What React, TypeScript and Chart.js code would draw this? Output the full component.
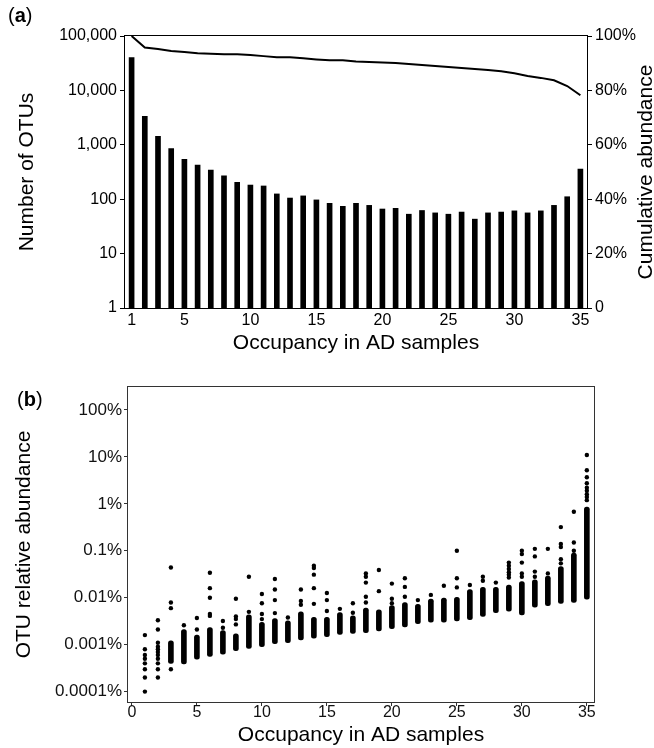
import React, { useEffect, useRef } from 'react';
import { Chart, registerables } from 'chart.js';

Chart.register(...registerables);

const FONT = '"Liberation Sans", Arial, Helvetica, sans-serif';

// ---------- Panel (a) ----------
const occupancyCategories = ['1','2','3','4','5','6','7','8','9','10','11','12','13','14','15','16','17','18','19','20','21','22','23','24','25','26','27','28','29','30','31','32','33','34','35'];
const shownOccupancyLabels = ['1','5','10','15','20','25','30','35'];
const otuCounts = [40000, 3340, 1430, 848, 541, 425, 344, 270, 204, 182, 175, 125, 105, 115, 97, 84, 74, 84, 77, 66, 68, 53, 62, 56, 53, 58, 43, 56, 58, 61, 56, 61, 77, 111, 359];
const cumulativeAbundance = [100, 95.8, 95.2, 94.5, 94.1, 93.7, 93.5, 93.3, 93.3, 93.0, 92.6, 92.2, 92.2, 91.8, 91.4, 91.1, 91.1, 90.6, 90.4, 90.3, 90.1, 89.7, 89.3, 89.0, 88.6, 88.2, 87.9, 87.5, 87.0, 86.3, 85.3, 84.6, 83.7, 81.6, 78.2];
const countTicks = [1, 10, 100, 1000, 10000, 100000];
const countTickLabels = ['1', '10', '100', '1,000', '10,000', '100,000'];
const abundanceTicks = [0, 20, 40, 60, 80, 100];
const abundanceTickLabels = ['0', '20%', '40%', '60%', '80%', '100%'];
const aXTitle = 'Occupancy in AD samples';
const aLeftTitle = 'Number of OTUs';
const aRightTitle = 'Cumulative abundance';

// ---------- Panel (b) ----------
const occupancyValues = [1,2,3,4,5,6,7,8,9,10,11,12,13,14,15,16,17,18,19,20,21,22,23,24,25,26,27,28,29,30,31,32,33,34,35];
const denseLow = [null, null, 0.0004, 0.00039, 0.00049, 0.00056, 0.00063, 0.00074, 0.00083, 0.00091, 0.00105, 0.0011, 0.00126, 0.00138, 0.00148, 0.00166, 0.00174, 0.0018, 0.00195, 0.0022, 0.0024, 0.0028, 0.003, 0.003, 0.0032, 0.0034, 0.004, 0.0048, 0.0052, 0.0043, 0.0063, 0.0068, 0.0076, 0.0079, 0.0093];
const denseHigh = [null, null, 0.0012, 0.0021, 0.0016, 0.0023, 0.002, 0.0017, 0.0043, 0.003, 0.0036, 0.0032, 0.005, 0.0038, 0.0038, 0.0048, 0.0041, 0.006, 0.0055, 0.0068, 0.0079, 0.0072, 0.0093, 0.0098, 0.0102, 0.015, 0.0166, 0.0166, 0.0186, 0.022, 0.024, 0.029, 0.046, 0.089, 0.85];
const outlierValues = [
  [0.0016, 0.0008, 0.0006, 0.0005, 0.0004, 0.0003, 0.0002, 0.0001],
  [0.0033, 0.0021, 0.0011, 0.0009, 0.0008, 0.0007, 0.0006, 0.0005, 0.0004, 0.0003, 0.0002],
  [0.044, 0.0079, 0.006, 0.0003],
  [0.0026],
  [0.0037, 0.0021],
  [0.034, 0.016, 0.01, 0.0045, 0.0041],
  [0.0032, 0.0023],
  [0.0095, 0.004, 0.0035, 0.0027],
  [0.028, 0.005],
  [0.012, 0.0076, 0.0045, 0.0035],
  [0.025, 0.015, 0.0089, 0.0047],
  [0.0038],
  [0.015, 0.0085, 0.0071],
  [0.048, 0.043, 0.031, 0.016, 0.0074],
  [0.0126, 0.0089, 0.0052],
  [0.0058],
  [0.0076, 0.0048],
  [0.033, 0.028, 0.021, 0.0105, 0.0079],
  [0.039, 0.0138],
  [0.02, 0.0095, 0.0076],
  [0.026, 0.017, 0.0105],
  [0.0089],
  [0.0115],
  [0.018],
  [0.1, 0.026, 0.0166],
  [0.0186],
  [0.028, 0.023],
  [0.021],
  [0.056, 0.048, 0.041, 0.035, 0.031, 0.027],
  [0.1, 0.085, 0.056, 0.033, 0.028],
  [0.11, 0.076, 0.036, 0.028],
  [0.11, 0.033],
  [0.32, 0.14, 0.12, 0.066, 0.054],
  [0.68, 0.15, 0.1],
  [11, 5.2, 3.7, 2.75, 2.2, 1.9, 1.6, 1.4, 1.2],
];
const relTicks = [0.0001, 0.001, 0.01, 0.1, 1, 10, 100];
const relTickLabels = ['0.0001%', '0.001%', '0.01%', '0.1%', '1%', '10%', '100%'];
const occTicks = [0, 5, 10, 15, 20, 25, 30, 35];
const bXTitle = 'Occupancy in AD samples';
const bYTitle = 'OTU relative abundance';

const framePlugin = (color: string) => ({
  id: 'frame',
  afterDraw(chart: any) {
    const { ctx, chartArea } = chart;
    const l = Math.round(chartArea.left) - 0.5;
    const t = Math.round(chartArea.top) - 0.5;
    const r = Math.round(chartArea.right) + 0.5;
    const b = Math.round(chartArea.bottom) + 0.5;
    ctx.save();
    ctx.strokeStyle = color;
    ctx.lineWidth = 1;
    ctx.strokeRect(l, t, r - l, b - t);
    ctx.restore();
  },
});

const rightTitlePlugin = {
  id: 'rightTitle',
  afterDraw(chart: any) {
    const { ctx, chartArea } = chart;
    const sc = chart.scales.y2;
    ctx.save();
    ctx.translate(sc.right - 2, (chartArea.top + chartArea.bottom) / 2);
    ctx.rotate(-Math.PI / 2);
    ctx.font = `21px ${FONT}`;
    ctx.fillStyle = '#000';
    ctx.textAlign = 'center';
    ctx.textBaseline = 'alphabetic';
    ctx.fillText(aRightTitle, 0, 0);
    ctx.restore();
  },
};

function PanelA() {
  const ref = useRef<HTMLCanvasElement>(null);
  useEffect(() => {
    const chart = new Chart(ref.current as HTMLCanvasElement, {
      type: 'bar',
      data: {
        labels: occupancyCategories,
        datasets: [
          {
            type: 'line',
            data: cumulativeAbundance,
            yAxisID: 'y2',
            borderColor: '#000',
            borderWidth: 2,
            pointRadius: 0,
            fill: false,
            tension: 0,
            order: 0,
          } as any,
          {
            type: 'bar',
            data: otuCounts,
            yAxisID: 'y',
            backgroundColor: '#000',
            barThickness: 5,
            order: 1,
          },
        ],
      },
      options: {
        animation: false,
        responsive: false,
        layout: { padding: { top: 36, left: 0, right: 0, bottom: 0 } },
        plugins: { legend: { display: false }, tooltip: { enabled: false } },
        scales: {
          x: {
            type: 'category',
            offset: true,
            grid: { display: false, drawTicks: false, tickLength: 0 },
            border: { display: false },
            ticks: {
              autoSkip: false,
              maxRotation: 0,
              minRotation: 0,
              padding: 3,
              color: '#000',
              font: { family: FONT, size: 16 },
              callback: (_v: any, i: number) =>
                shownOccupancyLabels.includes(occupancyCategories[i]) ? occupancyCategories[i] : '',
            },
            title: {
              display: true,
              text: aXTitle,
              color: '#000',
              font: { family: FONT, size: 21 },
              padding: { top: 0, bottom: 14 },
            },
            afterFit: (s: any) => { s.height = 62; },
          } as any,
          y: {
            type: 'logarithmic',
            position: 'left',
            min: 1,
            max: 100000,
            afterBuildTicks: (s: any) => { s.ticks = countTicks.map((v) => ({ value: v })); },
            ticks: {
              color: '#000',
              padding: 3,
              font: { family: FONT, size: 16 },
              callback: (v: any) => countTickLabels[countTicks.indexOf(v)] ?? '',
            },
            grid: { drawOnChartArea: false, drawTicks: true, tickLength: 5, color: '#000' },
            border: { display: false },
            title: {
              display: true,
              text: aLeftTitle,
              color: '#000',
              font: { family: FONT, size: 21 },
              padding: { top: 15, bottom: 0 },
            },
            afterFit: (s: any) => { s.width = 125; },
          } as any,
          y2: {
            type: 'linear',
            position: 'right',
            min: 0,
            max: 100,
            afterBuildTicks: (s: any) => { s.ticks = abundanceTicks.map((v) => ({ value: v })); },
            ticks: {
              color: '#000',
              padding: 3,
              font: { family: FONT, size: 16 },
              callback: (v: any) => abundanceTickLabels[abundanceTicks.indexOf(v)] ?? '',
            },
            grid: { drawOnChartArea: false, drawTicks: true, tickLength: 5, color: '#000' },
            border: { display: false },
            afterFit: (s: any) => { s.width = 67; },
          } as any,
        },
      },
      plugins: [framePlugin('#000'), rightTitlePlugin],
    });
    return () => chart.destroy();
  }, []);
  return <canvas ref={ref} width={654} height={370} style={{ position: 'absolute', left: 0, top: 0 }} />;
}

function PanelB() {
  const ref = useRef<HTMLCanvasElement>(null);
  useEffect(() => {
    const denseData = occupancyValues
      .map((o, i) => (denseLow[i] == null ? null : { x: o, y: [denseLow[i], denseHigh[i]] }))
      .filter(Boolean);
    const outlierData: { x: number; y: number }[] = [];
    occupancyValues.forEach((o, i) => outlierValues[i].forEach((v) => outlierData.push({ x: o, y: v })));
    const chart = new Chart(ref.current as HTMLCanvasElement, {
      type: 'scatter',
      data: {
        datasets: [
          {
            type: 'bar',
            data: denseData as any,
            backgroundColor: '#000',
            barThickness: 5,
            borderRadius: 2.5,
            borderSkipped: false,
            order: 1,
          } as any,
          {
            type: 'scatter',
            data: outlierData,
            backgroundColor: '#000',
            borderWidth: 0,
            pointRadius: 2.2,
            order: 0,
          } as any,
        ],
      },
      options: {
        animation: false,
        responsive: false,
        layout: { padding: { top: 17, left: 0, right: 60, bottom: 0 } },
        plugins: { legend: { display: false }, tooltip: { enabled: false } },
        scales: {
          x: {
            type: 'linear',
            offset: false,
            min: -0.3,
            max: 35.55,
            afterBuildTicks: (s: any) => { s.ticks = occTicks.map((v) => ({ value: v })); },
            ticks: { color: '#111', padding: -3, maxRotation: 0, font: { family: FONT, size: 16 } },
            grid: { offset: false, drawOnChartArea: false, drawTicks: true, tickLength: 4, color: '#333' },
            border: { display: false },
            title: {
              display: true,
              text: bXTitle,
              color: '#000',
              font: { family: FONT, size: 21 },
              padding: { top: 0, bottom: 0 },
            },
            afterFit: (s: any) => { s.height = 46; },
          } as any,
          y: {
            type: 'logarithmic',
            min: 0.00006,
            max: 309,
            afterBuildTicks: (s: any) => { s.ticks = relTicks.map((v) => ({ value: v })); },
            ticks: {
              color: '#111',
              padding: 2,
              font: { family: FONT, size: 17 },
              callback: (v: any) => relTickLabels[relTicks.indexOf(v)] ?? '',
            },
            grid: { drawOnChartArea: false, drawTicks: true, tickLength: 4, color: '#333' },
            border: { display: false },
            title: {
              display: true,
              text: bYTitle,
              color: '#000',
              font: { family: FONT, size: 21 },
              padding: { top: 12, bottom: 0 },
            },
            afterFit: (s: any) => { s.width = 128; },
          } as any,
        },
      },
      plugins: [framePlugin('#333')],
    });
    return () => chart.destroy();
  }, []);
  return <canvas ref={ref} width={654} height={378} style={{ position: 'absolute', left: 0, top: 370 }} />;
}

export default function App() {
  const labelStyle: React.CSSProperties = {
    position: 'absolute',
    fontFamily: FONT,
    fontSize: 20,
    lineHeight: '24px',
    color: '#000',
  };
  return (
    <div style={{ position: 'absolute', left: 0, top: 0, width: 654, height: 748, overflow: 'hidden', background: '#fff' }}>
      <PanelA />
      <PanelB />
      <div style={{ ...labelStyle, left: 8, top: 3 }}>(<b>a</b>)</div>
      <div style={{ ...labelStyle, left: 17, top: 387 }}>(<b>b</b>)</div>
    </div>
  );
}
